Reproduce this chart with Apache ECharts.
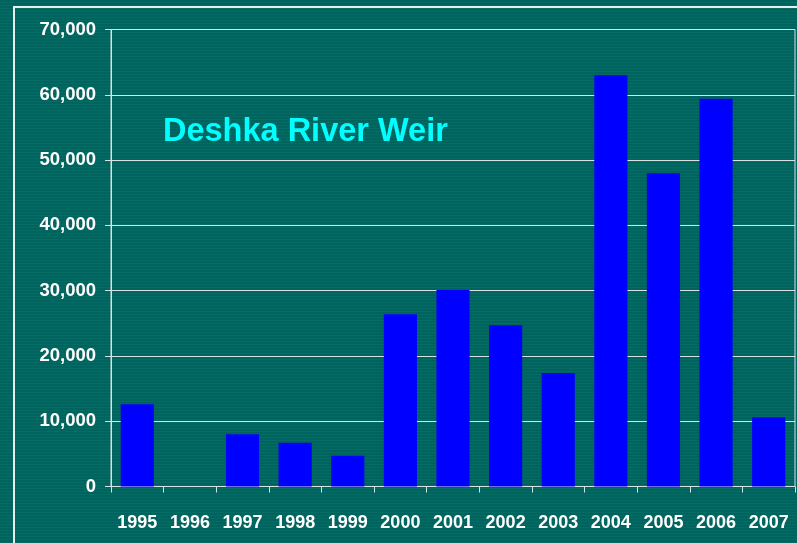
<!DOCTYPE html>
<html>
<head>
<meta charset="utf-8">
<script src="https://cdn.jsdelivr.net/npm/echarts@6/dist/echarts.min.js"></script>
<style>
  html, body { margin: 0; padding: 0; }
  body {
    width: 797px; height: 543px; overflow: hidden; position: relative;
    background: repeating-linear-gradient(180deg, #00645e 0px, #00645e 2px, #066a65 2px, #066a65 3px);
  }
  #frame {
    position: absolute; left: 13px; top: 6px; right: -10px; bottom: -10px;
    border-left: 2px solid #e6eeee; border-top: 2px solid #e6eeee;
  }
  #main { position: absolute; left: 0; top: 0; width: 797px; height: 543px; }
</style>
</head>
<body>
<div id="frame"></div>
<div id="main"></div>
<script>
"use strict"
// Deshka River Weir counts by year
const years = ['1995','1996','1997','1998','1999','2000','2001','2002','2003','2004','2005','2006','2007'];
const counts = [12600, 0, 8000, 6700, 4700, 26400, 30100, 24700, 17400, 63000, 48000, 59400, 10600];
const yTicks = [0, 10000, 20000, 30000, 40000, 50000, 60000, 70000];

const font = '"Liberation Sans", Arial, sans-serif';
const lineCol = '#d8e2e2';

var myChart = echarts.init(document.getElementById('main'));

var option = {
  backgroundColor: 'transparent',
  animation: false,
  title: {
    text: 'Deshka River Weir',
    left: 163,
    top: 116,
    padding: 0,
    textStyle: { color: '#00ffff', fontFamily: font, fontWeight: 'bold', fontSize: 32.5 }
  },
  grid: {
    left: 111, right: 2, top: 29.5, bottom: 56.5,
    show: true, borderColor: lineCol, borderWidth: 1
  },
  xAxis: {
    type: 'category',
    data: years,
    axisLine: { lineStyle: { color: lineCol, width: 1 } },
    axisTick: { show: true, length: 6, lineStyle: { color: lineCol } },
    axisLabel: {
      interval: 0,
      color: '#ffffff', fontFamily: font, fontWeight: 'bold', fontSize: 18, margin: 28
    }
  },
  yAxis: {
    type: 'value',
    min: yTicks[0],
    max: yTicks[yTicks.length - 1],
    interval: 10000,
    axisLine: { show: true, lineStyle: { color: lineCol, width: 1 } },
    axisTick: { show: true, length: 6, lineStyle: { color: lineCol } },
    splitLine: { lineStyle: { color: lineCol, width: 1 } },
    axisLabel: {
      color: '#ffffff', fontFamily: font, fontWeight: 'bold', fontSize: 18.5, margin: 15,
      formatter: function (v) { return v.toLocaleString('en-US'); }
    }
  },
  series: [
    {
      type: 'bar',
      data: counts,
      barCategoryGap: '37%',
      itemStyle: { color: '#0000ff' }
    }
  ]
};

myChart.setOption(option);
</script>
</body>
</html>
